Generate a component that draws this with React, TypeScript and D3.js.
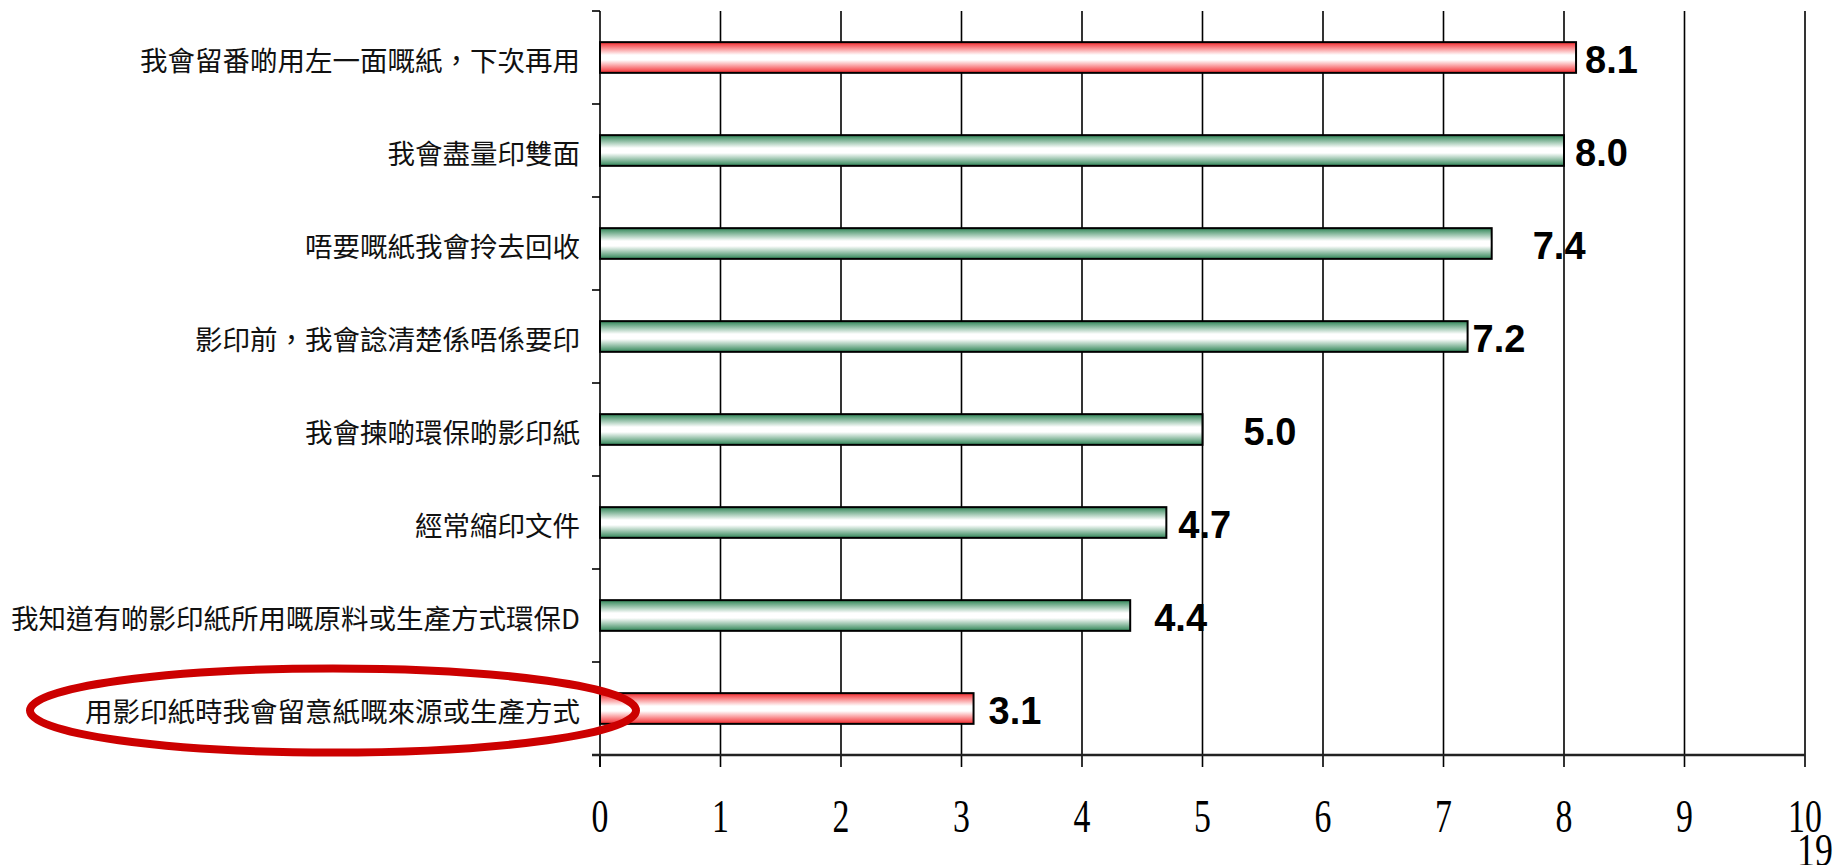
import { useRef, useEffect } from 'react';
import * as d3 from 'd3';

// ---------------------------------------------------------------------------
// Data
// ---------------------------------------------------------------------------
const CATEGORIES = [
  '我會留番啲用左一面嘅紙，下次再用',
  '我會盡量印雙面',
  '唔要嘅紙我會拎去回收',
  '影印前，我會諗清楚係唔係要印',
  '我會揀啲環保啲影印紙',
  '經常縮印文件',
  '我知道有啲影印紙所用嘅原料或生產方式環保D',
  '用影印紙時我會留意紙嘅來源或生產方式',
];
const VALUES = [8.1, 8.0, 7.4, 7.2, 5.0, 4.7, 4.4, 3.1];
// highlighted rows are drawn red, the rest green
const HIGHLIGHT = [true, false, false, false, false, false, false, true];
const X_TICKS = [0, 1, 2, 3, 4, 5, 6, 7, 8, 9, 10];
const PAGE_NO = '19';

// hand-placed gap (px) between bar end and its value label, as in the slide
const LABEL_GAP = [9, 11, 41, 5, 41, 12, 24, 15];

// ---------------------------------------------------------------------------
// Style
// ---------------------------------------------------------------------------
const W = 1847;
const H = 865;
const RED = '#f42a2e';
const GREEN = '#2f8556';
const CIRCLE = '#cc0000';
const INK = '#000000';
const CJK = '"Noto Sans CJK TC", "Noto Sans CJK SC", sans-serif';
const SERIF = '"Liberation Serif", "DejaVu Serif", serif';
const BOLD = '"Liberation Sans", Arial, sans-serif';

export default function App() {
  const svgRef = useRef<SVGSVGElement>(null);

  useEffect(() => {
    const svg = svgRef.current;
    if (!svg) return;
    const sel = d3.select(svg);
    sel.selectAll('*').remove();

    const x = d3.scaleLinear().domain([0, 10]).range([600, 1805]);
    const y = d3
      .scaleBand<string>()
      .domain(CATEGORIES)
      .range([11, 755])
      .paddingInner(0.67)
      .paddingOuter(0.335);

    const [top, bottom] = y.range();
    const x0 = x(0);

    // gradients
    const defs = sel.append('defs');
    const grad = (id: string, c: string) => {
      const lg = defs
        .append('linearGradient')
        .attr('id', id)
        .attr('x1', 0)
        .attr('y1', 0)
        .attr('x2', 0)
        .attr('y2', 1);
      lg.append('stop').attr('offset', '0%').attr('stop-color', c);
      lg.append('stop').attr('offset', '42%').attr('stop-color', '#ffffff');
      lg.append('stop').attr('offset', '58%').attr('stop-color', '#ffffff');
      lg.append('stop').attr('offset', '100%').attr('stop-color', c);
    };
    grad('gRed', RED);
    grad('gGreen', GREEN);

    const g = sel.append('g');

    // vertical gridlines
    X_TICKS.filter((t) => t > 0).forEach((t) => {
      g.append('line')
        .attr('x1', x(t))
        .attr('x2', x(t))
        .attr('y1', top)
        .attr('y2', bottom)
        .attr('stroke', INK)
        .attr('stroke-width', 1.6);
    });

    // x ticks below axis
    X_TICKS.forEach((t) => {
      g.append('line')
        .attr('x1', x(t))
        .attr('x2', x(t))
        .attr('y1', bottom)
        .attr('y2', bottom + 12)
        .attr('stroke', INK)
        .attr('stroke-width', 1.6);
      g.append('text')
        .attr('transform', `translate(${x(t)},${bottom + 77}) scale(0.72,1)`)
        .attr('text-anchor', 'middle')
        .attr('font-family', SERIF)
        .attr('font-size', 47)
        .attr('fill', INK)
        .text(String(t));
    });

    // left axis + category ticks
    g.append('line')
      .attr('x1', x0)
      .attr('x2', x0)
      .attr('y1', top)
      .attr('y2', bottom + 12)
      .attr('stroke', INK)
      .attr('stroke-width', 1.6);
    d3.range(CATEGORIES.length + 1).forEach((i) => {
      const yy = top + i * y.step();
      g.append('line')
        .attr('x1', x0 - 8)
        .attr('x2', x0)
        .attr('y1', yy)
        .attr('y2', yy)
        .attr('stroke', INK)
        .attr('stroke-width', 1.6);
    });

    // bottom axis
    g.append('line')
      .attr('x1', x0 - 8)
      .attr('x2', x(10))
      .attr('y1', bottom)
      .attr('y2', bottom)
      .attr('stroke', '#222')
      .attr('stroke-width', 2.4);

    // bars, category labels, values
    CATEGORIES.forEach((cat, i) => {
      const by = y(cat) ?? 0;
      const bw = y.bandwidth();
      const cy = by + bw / 2;

      g.append('rect')
        .attr('x', x0)
        .attr('y', by)
        .attr('width', x(VALUES[i]) - x0)
        .attr('height', bw)
        .attr('fill', HIGHLIGHT[i] ? 'url(#gRed)' : 'url(#gGreen)')
        .attr('stroke', INK)
        .attr('stroke-width', 2);

      g.append('text')
        .attr('x', 580)
        .attr('y', cy + 1)
        .attr('text-anchor', 'end')
        .attr('dominant-baseline', 'central')
        .attr('font-family', CJK)
        .attr('font-size', 27.5)
        .attr('fill', '#111')
        .text(cat);

      g.append('text')
        .attr('x', x(VALUES[i]) + LABEL_GAP[i])
        .attr('y', cy + 15)
        .attr('font-family', BOLD)
        .attr('font-weight', 'bold')
        .attr('font-size', 38)
        .attr('fill', INK)
        .text(VALUES[i].toFixed(1));
    });

    // red ring around the last category
    const last = CATEGORIES[CATEGORIES.length - 1];
    const ly = (y(last) ?? 0) + y.bandwidth() / 2;
    g.append('ellipse')
      .attr('cx', 333)
      .attr('cy', ly + 2)
      .attr('rx', 303)
      .attr('ry', 42)
      .attr('fill', 'none')
      .attr('stroke', CIRCLE)
      .attr('stroke-width', 8);

    // page number
    g.append('text')
      .attr('transform', `translate(1815,866) scale(0.78,1)`)
      .attr('text-anchor', 'middle')
      .attr('font-family', SERIF)
      .attr('font-size', 46)
      .attr('fill', INK)
      .text(PAGE_NO);
  }, []);

  return (
    <svg
      ref={svgRef}
      width={W}
      height={H}
      style={{ position: 'absolute', left: 0, top: 0, background: '#fff' }}
    />
  );
}
